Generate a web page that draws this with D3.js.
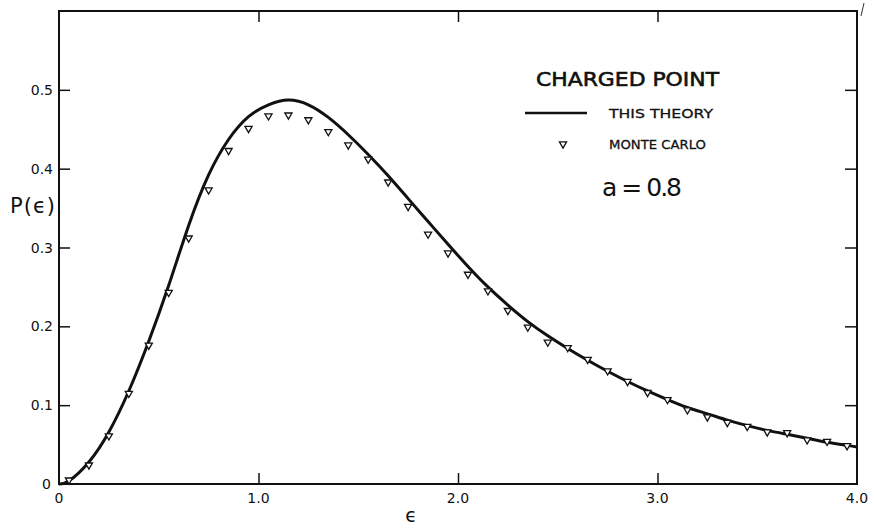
<!DOCTYPE html>
<html>
<head>
<meta charset="utf-8">
<script src="https://cdn.jsdelivr.net/npm/d3@7"></script>
<style>
  body { margin: 0; background: #fff; }
  svg { display: block; }
  text { font-family: "DejaVu Sans", sans-serif; fill: #111; }
</style>
</head>
<body>
<div id="chart"></div>
<script>
// theory curve
const theoryEps = [0, 0.05, 0.15, 0.25, 0.35, 0.45, 0.55, 0.65, 0.75, 0.85, 0.95, 1.05, 1.15, 1.25, 1.35, 1.45,
  1.55, 1.65, 1.75, 1.85, 1.95, 2.05, 2.15, 2.25, 2.35, 2.45, 2.55, 2.65, 2.75, 2.85, 2.95,
  3.05, 3.15, 3.25, 3.35, 3.45, 3.55, 3.65, 3.75, 3.85, 3.95, 4.0];
const theoryP = [0, 0.004, 0.028, 0.066, 0.118, 0.181, 0.252, 0.328, 0.392, 0.437, 0.466, 0.481, 0.487, 0.481, 0.465, 0.443,
  0.418, 0.391, 0.362, 0.333, 0.304, 0.276, 0.250, 0.227, 0.206, 0.188, 0.172, 0.157, 0.143, 0.130, 0.118,
  0.107, 0.097, 0.089, 0.081, 0.074, 0.068, 0.063, 0.058, 0.053, 0.049, 0.047];

// Monte Carlo points
const mcEps = [0.05, 0.15, 0.25, 0.35, 0.45, 0.55, 0.65, 0.75, 0.85, 0.95, 1.05, 1.15, 1.25, 1.35, 1.45,
  1.55, 1.65, 1.75, 1.85, 1.95, 2.05, 2.15, 2.25, 2.35, 2.45, 2.55, 2.65, 2.75, 2.85, 2.95,
  3.05, 3.15, 3.25, 3.35, 3.45, 3.55, 3.65, 3.75, 3.85, 3.95];
const mcP = [0.005, 0.024, 0.061, 0.115, 0.176, 0.243, 0.312, 0.373, 0.423, 0.451, 0.467, 0.468, 0.462, 0.447, 0.430,
  0.412, 0.383, 0.352, 0.317, 0.293, 0.266, 0.245, 0.220, 0.199, 0.180, 0.173, 0.158, 0.1435, 0.130, 0.116,
  0.107, 0.094, 0.085, 0.078, 0.073, 0.066, 0.065, 0.056, 0.054, 0.0485];

const xTicks = [0, 1, 2, 3, 4];
const xTickLabels = ['0', '1.0', '2.0', '3.0', '4.0'];
const yTicks = [0, 0.1, 0.2, 0.3, 0.4, 0.5];
const yTickLabels = ['0', '0.1', '0.2', '0.3', '0.4', '0.5'];

const W = 874, H = 529;
const margin = { top: 11, right: 17, bottom: 45, left: 59 };

const svg = d3.select('#chart').append('svg')
  .attr('width', W)
  .attr('height', H);

const x = d3.scaleLinear().domain([0, 4]).range([margin.left, W - margin.right]);
const y = d3.scaleLinear().domain([0, 0.6]).range([H - margin.bottom, margin.top]);

// frame
svg.append('rect')
  .attr('x', x(0)).attr('y', y(0.6))
  .attr('width', x(4) - x(0)).attr('height', y(0) - y(0.6))
  .attr('fill', 'none').attr('stroke', '#111').attr('stroke-width', 2);

// little stray pen mark at the top right corner of the scan
svg.append('path')
  .attr('d', `M${x(4) + 4},16 L${x(4) + 7},3`)
  .attr('stroke', '#333').attr('stroke-width', 1);

// axes with inward ticks
const bottomAxis = d3.axisBottom(x).tickValues(xTicks.slice(1, 4)).tickSize(-11).tickFormat('');
const topAxis = d3.axisTop(x).tickValues(xTicks.slice(1, 4)).tickSize(-11).tickFormat('');
const leftAxis = d3.axisLeft(y).tickValues(yTicks.slice(1)).tickSize(-11).tickFormat('');
const rightAxis = d3.axisRight(y).tickValues(yTicks.slice(1)).tickSize(-12).tickFormat('');

svg.append('g').attr('transform', `translate(0,${y(0)})`).call(bottomAxis);
svg.append('g').attr('transform', `translate(0,${y(0.6)})`).call(topAxis);
svg.append('g').attr('transform', `translate(${x(0)},0)`).call(leftAxis);
svg.append('g').attr('transform', `translate(${x(4)},0)`).call(rightAxis);
svg.selectAll('.domain').remove();
svg.selectAll('.tick line').attr('stroke', '#111').attr('stroke-width', 1.5);

// tick labels
svg.selectAll('.xlab')
  .data(xTicks)
  .enter()
  .append('text')
  .attr('x', d => x(d))
  .attr('y', 503)
  .attr('text-anchor', 'middle')
  .attr('font-size', '14px')
  .text((d, i) => xTickLabels[i]);

svg.selectAll('.ylab')
  .data(yTicks)
  .enter()
  .append('text')
  .attr('x', d => (d === 0 ? 51 : 53))
  .attr('y', d => y(d) + 5)
  .attr('text-anchor', 'end')
  .attr('font-size', '14px')
  .text((d, i) => yTickLabels[i]);

// axis titles
svg.append('text')
  .attr('x', 411).attr('y', 522)
  .attr('text-anchor', 'middle')
  .attr('font-size', '19px')
  .text('ϵ');

svg.append('text')
  .attr('x', 10).attr('y', 213)
  .attr('font-size', '21px')
  .attr('textLength', 45)
  .text('P(ϵ)');

// theory line
const line = d3.line()
  .x((d, i) => x(theoryEps[i]))
  .y(d => y(d))
  .curve(d3.curveNatural);

svg.append('path')
  .datum(theoryP)
  .attr('d', line)
  .attr('fill', 'none')
  .attr('stroke', '#111')
  .attr('stroke-width', 3);

// monte carlo markers
const tri = d3.symbol(d3.symbolTriangle, 22);

svg.selectAll('.mc')
  .data(mcP)
  .enter()
  .append('path')
  .attr('d', tri)
  .attr('transform', (d, i) => `translate(${x(mcEps[i])},${y(d)}) rotate(180)`)
  .attr('fill', '#fff')
  .attr('stroke', '#111')
  .attr('stroke-width', 1.3);

// legend
svg.append('text')
  .attr('x', 536).attr('y', 86)
  .attr('font-size', '20px')
  .attr('stroke', '#111').attr('stroke-width', 0.6)
  .attr('textLength', 183)
  .attr('lengthAdjust', 'spacingAndGlyphs')
  .text('CHARGED  POINT');

svg.append('line')
  .attr('x1', 525).attr('x2', 587)
  .attr('y1', 113).attr('y2', 113)
  .attr('stroke', '#111').attr('stroke-width', 2.5);

svg.append('text')
  .attr('x', 609).attr('y', 118)
  .attr('font-size', '13px')
  .attr('stroke', '#111').attr('stroke-width', 0.3)
  .attr('textLength', 104)
  .attr('lengthAdjust', 'spacingAndGlyphs')
  .text('THIS THEORY');

svg.append('path')
  .attr('d', tri)
  .attr('transform', 'translate(563,144) rotate(180)')
  .attr('fill', '#fff')
  .attr('stroke', '#111')
  .attr('stroke-width', 1.3);

svg.append('text')
  .attr('x', 609).attr('y', 149)
  .attr('font-size', '13px')
  .attr('stroke', '#111').attr('stroke-width', 0.3)
  .attr('textLength', 97)
  .attr('lengthAdjust', 'spacingAndGlyphs')
  .text('MONTE CARLO');

svg.append('text')
  .attr('x', 602).attr('y', 196)
  .attr('font-size', '25px')
  .attr('textLength', 80)
  .text('a = 0.8');
</script>
</body>
</html>
